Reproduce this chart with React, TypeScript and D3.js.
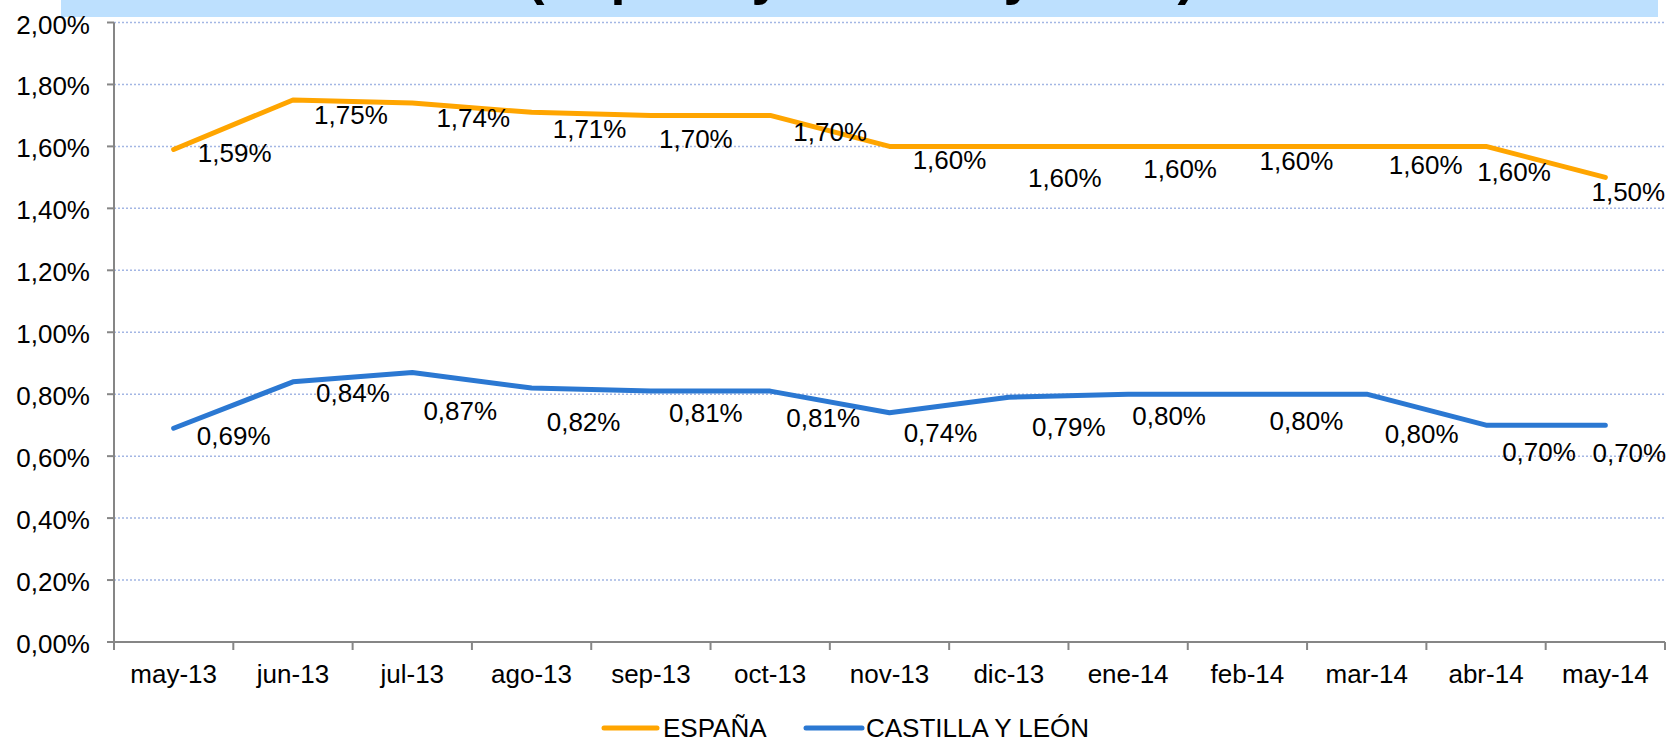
import { useEffect, useRef } from "react";
import * as d3 from "d3";

// Months shown on the x axis
const months = [
  "may-13", "jun-13", "jul-13", "ago-13", "sep-13", "oct-13", "nov-13",
  "dic-13", "ene-14", "feb-14", "mar-14", "abr-14", "may-14",
];

// Values in percent
const espana = [1.59, 1.75, 1.74, 1.71, 1.7, 1.7, 1.6, 1.6, 1.6, 1.6, 1.6, 1.6, 1.5];
const castillaLeon = [0.69, 0.84, 0.87, 0.82, 0.81, 0.81, 0.74, 0.79, 0.8, 0.8, 0.8, 0.7, 0.7];

const yTicks = [0, 0.2, 0.4, 0.6, 0.8, 1.0, 1.2, 1.4, 1.6, 1.8, 2.0];

const seriesNames = ["ESPAÑA", "CASTILLA Y LEÓN"];
const titleText = "(España y Castilla y León)";

// Label nudges (px, from the point to the label centre), as placed in the original
const espanaLabelShift: [number, number][] = [
  [61, 3], [58, 15], [61, 15], [58, 16], [45, 23], [60, 16], [60, 13],
  [56, 31], [52, 22], [49, 14], [59, 18], [28, 25], [23, 14],
];
const castillaLabelShift: [number, number][] = [
  [60, 7], [60, 11], [48, 38], [52, 34], [55, 22], [53, 27], [51, 20],
  [60, 29], [41, 21], [59, 26], [55, 39], [53, 27], [24, 28],
];

const WIDTH = 1672;
const HEIGHT = 740;
const FONT = "'Liberation Sans', Arial, sans-serif";

const fmt = (v: number) => v.toFixed(2).replace(".", ",") + "%";

export default function App() {
  const svgRef = useRef<SVGSVGElement>(null);

  useEffect(() => {
    if (!svgRef.current) return;
    const svg = d3.select(svgRef.current);
    svg.selectAll("*").remove();

    const left = 114;
    const right = 1665;
    const top = 22.5;
    const bottom = 642;

    const x = d3.scaleBand<string>().domain(months).range([left, right]).padding(0);
    const y = d3.scaleLinear().domain([0, 2]).range([bottom, top]);
    const cx = (m: string) => (x(m) ?? 0) + x.bandwidth() / 2;

    // Title banner (cut off at the top, only descenders show)
    svg
      .append("rect")
      .attr("x", 61)
      .attr("y", 0)
      .attr("width", 1597)
      .attr("height", 17)
      .attr("fill", "#bde0fe");
    svg
      .append("text")
      .attr("x", 861)
      .attr("y", -6)
      .attr("text-anchor", "middle")
      .attr("font-family", FONT)
      .attr("font-weight", "bold")
      .attr("font-size", 54)
      .attr("fill", "#000")
      .text(titleText);

    // Gridlines
    svg
      .append("g")
      .selectAll("line")
      .data(yTicks.filter((t) => t > 0))
      .join("line")
      .attr("x1", left)
      .attr("x2", right)
      .attr("y1", (d) => y(d))
      .attr("y2", (d) => y(d))
      .attr("stroke", "#a3b6e4")
      .attr("stroke-width", 1.5)
      .attr("stroke-dasharray", "2 2");

    // Axes
    const axisColor = "#868686";
    svg
      .append("line")
      .attr("x1", left)
      .attr("x2", left)
      .attr("y1", top)
      .attr("y2", bottom)
      .attr("stroke", axisColor)
      .attr("stroke-width", 2);
    svg
      .append("line")
      .attr("x1", left - 7)
      .attr("x2", right)
      .attr("y1", bottom)
      .attr("y2", bottom)
      .attr("stroke", axisColor)
      .attr("stroke-width", 2);

    // Y ticks + labels
    const yAxis = svg.append("g");
    yAxis
      .selectAll("line")
      .data(yTicks)
      .join("line")
      .attr("x1", left - 7)
      .attr("x2", left)
      .attr("y1", (d) => y(d))
      .attr("y2", (d) => y(d))
      .attr("stroke", axisColor)
      .attr("stroke-width", 2);
    yAxis
      .selectAll("text")
      .data(yTicks)
      .join("text")
      .attr("x", 90)
      .attr("y", (d) => y(d) + 11)
      .attr("text-anchor", "end")
      .attr("font-family", FONT)
      .attr("font-size", 26)
      .attr("fill", "#000")
      .text((d) => fmt(d));

    // X ticks at category boundaries + labels
    const bounds = months.map((m) => x(m) ?? 0).concat([right]);
    svg
      .append("g")
      .selectAll("line")
      .data(bounds)
      .join("line")
      .attr("x1", (d) => d)
      .attr("x2", (d) => d)
      .attr("y1", bottom)
      .attr("y2", bottom + 8)
      .attr("stroke", axisColor)
      .attr("stroke-width", 2);
    svg
      .append("g")
      .selectAll("text")
      .data(months)
      .join("text")
      .attr("x", (d) => cx(d))
      .attr("y", 683)
      .attr("text-anchor", "middle")
      .attr("font-family", FONT)
      .attr("font-size", 26)
      .attr("fill", "#000")
      .text((d) => d);

    // Series
    const series = [
      { name: seriesNames[0], values: espana, color: "#ffa500", shift: espanaLabelShift },
      { name: seriesNames[1], values: castillaLeon, color: "#2b78d2", shift: castillaLabelShift },
    ];
    const line = d3
      .line<number>()
      .x((_, i) => cx(months[i]))
      .y((d) => y(d));

    series.forEach((s) => {
      svg
        .append("path")
        .attr("d", line(s.values) ?? "")
        .attr("fill", "none")
        .attr("stroke", s.color)
        .attr("stroke-width", 5)
        .attr("stroke-linecap", "round")
        .attr("stroke-linejoin", "round");
    });

    series.forEach((s) => {
      svg
        .append("g")
        .selectAll("text")
        .data(s.values)
        .join("text")
        .attr("x", (_, i) => cx(months[i]) + s.shift[i][0])
        .attr("y", (d, i) => y(d) + s.shift[i][1] + 9.3)
        .attr("text-anchor", "middle")
        .attr("font-family", FONT)
        .attr("font-size", 26)
        .attr("fill", "#000")
        .text((d) => fmt(d));
    });

    // Legend
    const legend = svg.append("g");
    const legendItems = [
      { x0: 604, x1: 657, tx: 663 },
      { x0: 806, x1: 862, tx: 866 },
    ];
    series.forEach((s, i) => {
      const it = legendItems[i];
      legend
        .append("line")
        .attr("x1", it.x0)
        .attr("x2", it.x1)
        .attr("y1", 728)
        .attr("y2", 728)
        .attr("stroke", s.color)
        .attr("stroke-width", 5)
        .attr("stroke-linecap", "round");
      legend
        .append("text")
        .attr("x", it.tx)
        .attr("y", 736.5)
        .attr("font-family", FONT)
        .attr("font-size", 26)
        .attr("fill", "#000")
        .text(s.name);
    });
  }, []);

  return (
    <div style={{ position: "absolute", left: 0, top: 0, width: WIDTH, height: HEIGHT, background: "#fff" }}>
      <svg ref={svgRef} width={WIDTH} height={HEIGHT} viewBox={`0 0 ${WIDTH} ${HEIGHT}`} style={{ display: "block" }}>
        {/* chart is drawn with d3 in useEffect */}
      </svg>
    </div>
  );
}
